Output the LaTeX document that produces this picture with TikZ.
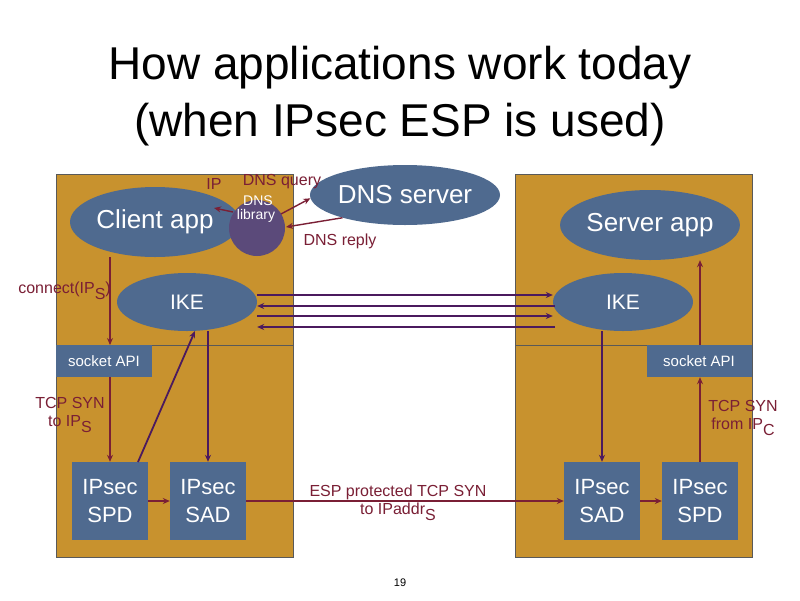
\documentclass[tikz,border=0pt]{standalone}
\usepackage{fontspec}
\setmainfont{Liberation Sans}
\usetikzlibrary{shapes.geometric,arrows.meta}
\definecolor{tan}{HTML}{C8922E}
\definecolor{blu}{HTML}{4F6A8F}
\definecolor{lib}{HTML}{5B4A7A}
\definecolor{dred}{HTML}{7A1F35}
\definecolor{purp}{HTML}{4B1A5E}
\tikzset{
 panel/.style={fill=tan,draw=gray!70!black,line width=0.8pt},
 ell/.style={ellipse,fill=blu,text=white,inner sep=0pt},
 sq/.style={rectangle,fill=blu,text=white,inner sep=0pt,align=center,font=\fontsize{22}{28}\selectfont},
 api/.style={rectangle,fill=blu,text=white,inner sep=0pt,font=\fontsize{15}{18}\selectfont},
 ra/.style={draw=dred,line width=1.4pt,-{Stealth[length=7pt,width=6pt]}},
 pa/.style={draw=purp,line width=1.8pt,-{Stealth[length=7pt,width=6pt]}},
 lab/.style={text=dred,font=\fontsize{16}{18}\selectfont,align=center,inner sep=0pt},
 libt/.style={text=white,font=\fontsize{14}{14}\selectfont,inner sep=0pt}
}
\begin{document}
\begin{tikzpicture}[x=1pt,y=-1pt]
\useasboundingbox (0,0) rectangle (800,600);
\fill[white] (0,0) rectangle (800,600);
\node[font=\fontsize{46}{57}\selectfont,align=center] (title) at (400,96) {How applications work today\\(when IPsec ESP is used)};
\draw[panel] (56,174) rectangle (293,557);
\draw[panel] (515,174) rectangle (752,557);
\draw[gray!70!black,line width=1pt] (56,345) -- (293,345);
\draw[gray!70!black,line width=1pt] (515,345) -- (752,345);
\node[ell,minimum width=170,minimum height=70,font=\fontsize{26}{28}\selectfont] (capp) at (155,222) {Client app};
\node[circle,fill=lib,minimum size=56,inner sep=0pt] (lib) at (257,228) {};
\node[libt] (libt1) at (258,201) {DNS};
\node[libt] (libt2) at (256,216) {library};
\node[ell,minimum width=174,minimum height=60,font=\fontsize{26}{28}\selectfont] (dns) at (405,195) {DNS server};
\node[ell,minimum width=174,minimum height=70,font=\fontsize{26}{28}\selectfont] (sapp) at (650,225) {Server app};
\node[ell,minimum width=140,minimum height=58,font=\fontsize{21}{24}\selectfont] (ike1) at (187,302) {IKE};
\node[ell,minimum width=140,minimum height=58,font=\fontsize{21}{24}\selectfont] (ike2) at (623,302) {IKE};
\node[api,minimum width=96,minimum height=32] (sock1) at (104,361) {socket API};
\node[api,minimum width=105,minimum height=32] (sock2) at (699,361) {socket API};
\node[sq,minimum width=76,minimum height=78] (spd1) at (110,501) {IPsec\\SPD};
\node[sq,minimum width=76,minimum height=78] (sad1) at (208,501) {IPsec\\SAD};
\node[sq,minimum width=76,minimum height=78] (sad2) at (602,501) {IPsec\\SAD};
\node[sq,minimum width=76,minimum height=78] (spd2) at (700,501) {IPsec\\SPD};
% DNS
\coordinate (l1) at (233,212); \coordinate (c1) at (214,208);
\draw[ra] (l1) -- (c1);
\node[lab] (ip) at (214,184) {IP};
\node[lab] (dq) at (282,182) {DNS query};
\node[lab] (dr) at (340,241) {DNS reply};
\draw[ra] (281,214) -- (dns.182);
\draw[ra] (dns.200) -- (286,227);
% IKE lines
\draw[pa] (257,295) -- (ike2.west |- 0,295);
\draw[pa] (555,306) -- (ike1.east |- 0,306);
\draw[pa] (257,316) -- (ike2.west |- 0,316);
\draw[pa] (555,327) -- (ike1.east |- 0,327);
% left flows
\draw[ra] (capp.south -| 110,0) -- (110,345);
\node[lab,anchor=east] (conn) at (111,291) {connect(IP\raisebox{-6pt}{S})};
\draw[ra] (sock1.south -| 110,0) -- (spd1.north);
\node[lab] (tcp1) at (70,415) {TCP SYN\\to IP\raisebox{-6pt}{S}};
\draw[pa] (138,462) -- (195,331);
\draw[pa] (208,331) -- (sad1.north);
\draw[ra] (spd1.east) -- (sad1.west);
\draw[ra] (sad1.east) -- (sad2.west);
\node[lab] (esp) at (398,503) {ESP protected TCP SYN\\to IPaddr\raisebox{-6pt}{S}};
% right flows
\draw[pa] (602,331) -- (sad2.north);
\draw[ra] (sad2.east) -- (spd2.west);
\draw[ra] (spd2.north) -- (sock2.south -| spd2);
\draw[ra] (sock2.north -| spd2) -- (sapp.south -| spd2);
\node[lab] (tcp2) at (743,418) {TCP SYN\\from IP\raisebox{-6pt}{C}};
\node[font=\fontsize{11}{12}\selectfont] (pg) at (400,583) {19};
\end{tikzpicture}
\end{document}
